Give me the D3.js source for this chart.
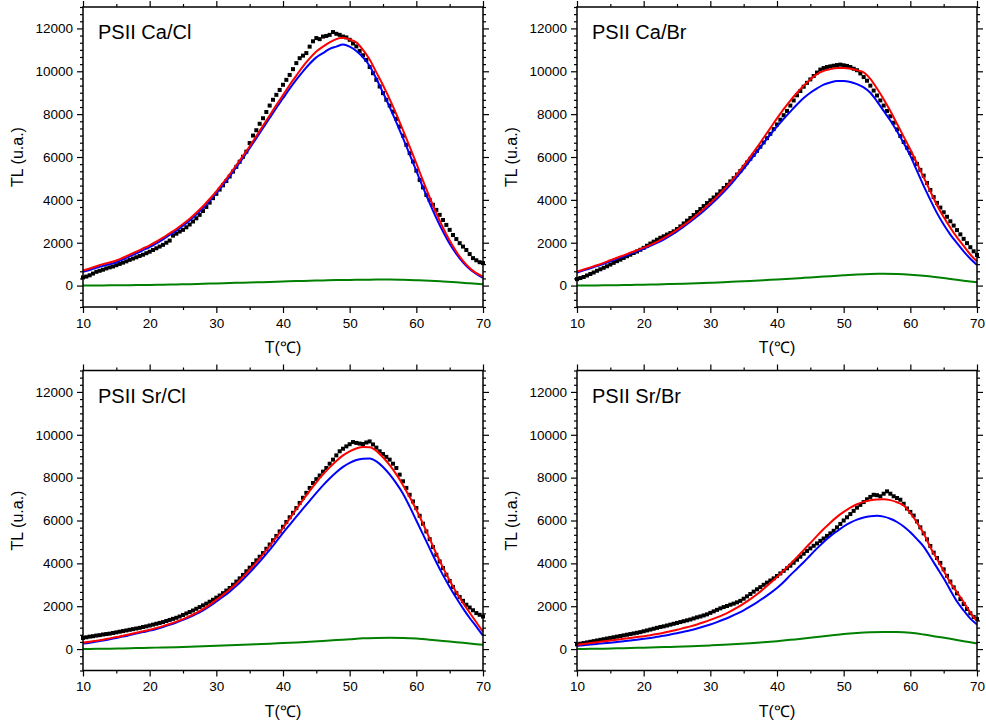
<!DOCTYPE html>
<html><head><meta charset="utf-8">
<script src="https://cdn.jsdelivr.net/npm/d3@7"></script>
<style>
body{margin:0;background:#fff;}
svg{display:block;}
text{font-family:"Liberation Sans",Arial,Helvetica,sans-serif;fill:#000;}
</style>
</head><body>
<svg id="chart" width="986" height="722"></svg>
<script>
// ---- temperature grids (°C) ----
const T1 = [10,11,12,13,14,15,16,17,18,19,20,21,22,23,24,25,26,27,28,29,30,31,32,33,34,35,36,37,38,39,40,41,42,43,44,45,46,47,48,49,50,51,52,53,54,55,56,57,58,59,60,61,62,63,64,65,66,67,68,69,70];
const T05 = [10,10.5,11,11.5,12,12.5,13,13.5,14,14.5,15,15.5,16,16.5,17,17.5,18,18.5,19,19.5,20,20.5,21,21.5,22,22.5,23,23.5,24,24.5,25,25.5,26,26.5,27,27.5,28,28.5,29,29.5,30,30.5,31,31.5,32,32.5,33,33.5,34,34.5,35,35.5,36,36.5,37,37.5,38,38.5,39,39.5,40,40.5,41,41.5,42,42.5,43,43.5,44,44.5,45,45.5,46,46.5,47,47.5,48,48.5,49,49.5,50,50.5,51,51.5,52,52.5,53,53.5,54,54.5,55,55.5,56,56.5,57,57.5,58,58.5,59,59.5,60,60.5,61,61.5,62,62.5,63,63.5,64,64.5,65,65.5,66,66.5,67,67.5,68,68.5,69,69.5,70];
const T2 = [10,12,14,16,18,20,22,24,26,28,30,32,34,36,38,40,42,44,46,48,50,52,54,56,58,60,62,64,66,68,70];

// ---- axis ticks ----
const xMajor = [10,20,30,40,50,60,70];
const xMinor = [15,25,35,45,55,65];
const yMajor = [0,2000,4000,6000,8000,10000,12000];
const titles = ["PSII Ca/Cl","PSII Ca/Br","PSII Sr/Cl","PSII Sr/Br"];

// ---- PSII Ca/Cl ----
const caClData = [380,420,480,560,640,690,740,800,850,890, 950,1010,1070,1130,1200,1260,1320,1380,1440,1510, 1580,1660,1740,1820,1900,2000,2100,2330,2420,2520, 2600,2720,2850,2990,3140,3300,3480,3670,3870,4080, 4280,4480,4680,4880,5090,5320,5540,5780,6010,6250, 6650,7000,7250,7550,7810,8100,8400,8670,8900,9130, 9370,9600,9830,10100,10380,10610,10730,10850,11150,11400, 11550,11500,11620,11650,11700,11830,11750,11700,11620,11580, 11470,11300,11160,10950,10750,10530,10200,9910,9600,9290, 8980,8670,8400,8120,7780,7420,7000,6570,6180,5790, 5360,4930,4580,4230,4000,3770,3530,3300,3060,2830, 2600,2360,2170,1980,1820,1660,1470,1280,1180,1090, 1050];
const caClFit = [700,800,900,1000,1080,1170,1300,1440,1580,1730, 1880,2050,2240,2440,2640,2870,3120,3400,3700,4040, 4400,4790,5190,5620,6050,6500,6980,7460,7940,8420, 8890,9360,9800,10230,10600,10920,11150,11350,11500,11560, 11480,11350,11000,10550,9950,9350,8700,8000,7250,6480, 5700,4900,4120,3380,2700,2100,1580,1150,820,580, 420];
const caClPeak1 = [640,730,830,920,1000,1090,1220,1360,1500,1650, 1800,1970,2160,2360,2560,2790,3040,3320,3620,3960, 4320,4700,5100,5530,5960,6410,6880,7350,7820,8290, 8740,9190,9610,10000,10350,10650,10850,11050,11150,11250, 11150,10950,10650,10250,9650,9000,8330,7620,6880,6120, 5350,4580,3850,3150,2520,1950,1480,1080,770,540, 360];
const caClPeak2 = [0,5,10,15,22,30,40,52,66,82, 100,118,135,152,170,190,208,225,242,256, 265,272,278,280,268,250,225,190,150,105, 60];

// ---- PSII Ca/Br ----
const caBrData = [300,350,400,470,540,610,690,760,830,900, 980,1060,1140,1210,1290,1370,1440,1520,1590,1670, 1760,1860,1960,2050,2140,2230,2300,2380,2450,2530, 2640,2760,2900,3030,3150,3290,3430,3570,3710,3850, 3980,4110,4250,4400,4550,4700,4860,5010,5180,5350, 5540,5740,5920,6100,6290,6480,6680,6880,7080,7300, 7520,7740,7950,8150,8400,8640,8880,9080,9280,9460, 9620,9780,9940,10080,10150,10200,10230,10260,10290,10310, 10280,10250,10200,10120,10050,9900,9730,9560,9330,9100, 8870,8640,8400,8150,7900,7600,7290,6980,6700,6440, 6190,5930,5680,5400,5130,4790,4460,4130,3860,3640, 3420,3210,3000,2800,2590,2390,2180,1980,1790,1600, 1430];
const caBrFit = [650,750,850,950,1060,1180,1300,1410,1530,1650, 1770,1900,2040,2210,2400,2600,2820,3050,3300,3570, 3850,4150,4470,4820,5200,5600,6020,6450,6900,7350, 7800,8230,8630,9000,9330,9620,9870,10020,10100,10150, 10150,10120,10050,9950,9650,9200,8700,8150,7550,6950, 6350,5700,5050,4400,3750,3200,2700,2250,1850,1450, 1120];
const caBrPeak1 = [610,710,810,910,1020,1130,1250,1360,1480,1600, 1720,1850,1990,2150,2330,2530,2750,2980,3220,3480, 3760,4050,4360,4700,5070,5450,5850,6250,6650,7050, 7420,7780,8120,8450,8750,9000,9200,9380,9480,9550, 9550,9500,9400,9250,9000,8600,8150,7700,7200,6650, 6050,5350,4650,4000,3380,2850,2380,1980,1600,1250, 960];
const caBrPeak2 = [0,5,10,20,30,40,55,70,90,110, 130,155,185,215,250,285,320,360,400,440, 480,520,545,550,540,510,460,390,310,230, 150];

// ---- PSII Sr/Cl ----
const srClData = [520,550,580,600,630,650,680,700,720,750, 780,810,840,870,900,930,960,990,1030,1060, 1100,1140,1180,1220,1260,1310,1360,1410,1460,1520, 1590,1660,1730,1800,1880,1960,2040,2120,2210,2300, 2400,2500,2610,2730,2850,3000,3150,3300,3460,3630, 3800,3970,4140,4310,4480,4680,4880,5080,5280,5490, 5710,5930,6150,6360,6580,6820,7060,7290,7520,7750, 7930,8100,8280,8450,8650,8840,9040,9230,9350,9460, 9560,9660,9620,9590,9570,9640,9690,9550,9400,9230, 9100,8970,8840,8650,8450,8140,7830,7520,7200,6890, 6580,6220,5850,5490,5130,4760,4400,4090,3780,3470, 3180,2900,2610,2430,2250,2070,1940,1810,1680,1600, 1520];
const srClFit = [300,340,390,440,500,560,620,690,760,830, 900,980,1070,1170,1280,1400,1540,1690,1860,2060, 2300,2530,2780,3060,3370,3700,4050,4420,4810,5220, 5650,6090,6530,6960,7380,7780,8150,8480,8780,9040, 9230,9360,9430,9420,9250,8950,8580,8150,7650,7100, 6500,5850,5150,4450,3800,3200,2650,2150,1700,1250, 800];
const srClPeak1 = [260,300,350,400,460,520,580,650,720,790, 860,940,1030,1130,1240,1360,1490,1640,1810,2000, 2220,2440,2680,2950,3250,3570,3910,4260,4630,5020, 5420,5800,6180,6550,6920,7290,7640,7960,8250,8500, 8690,8820,8880,8890,8760,8500,8150,7730,7250,6650, 6000,5350,4700,4050,3450,2900,2380,1900,1450,1050, 620];
const srClPeak2 = [0,10,20,30,45,60,75,90,110,130, 150,175,200,225,250,280,310,340,380,420, 460,500,520,530,520,490,440,380,320,260, 200];

// ---- PSII Sr/Br ----
const srBrData = [220,250,280,310,340,370,400,430,460,490, 520,550,580,610,640,670,700,730,760,790, 830,870,910,950,990,1030,1060,1100,1140,1180, 1220,1260,1300,1340,1380,1430,1480,1520,1570,1620, 1690,1760,1830,1900,1960,2010,2070,2120,2180,2250, 2350,2460,2570,2680,2790,2890,3000,3100,3200,3300, 3410,3530,3650,3770,3890,4030,4170,4310,4450,4580, 4700,4820,4930,5050,5160,5280,5400,5520,5680,5840, 6000,6150,6300,6450,6600,6730,6860,6990,7100,7200, 7180,7130,7250,7360,7250,7130,7050,6970,6780,6560, 6400,6230,5960,5680,5400,5120,4810,4500,4250,4020, 3720,3420,3150,2880,2600,2330,2100,1870,1670,1500, 1400];
const srBrFit = [200,240,280,320,360,400,440,480,520,560, 600,650,700,760,830,900,980,1060,1150,1250, 1360,1480,1610,1760,1930,2120,2330,2560,2810,3080, 3360,3660,3970,4290,4620,4950,5280,5600,5900,6170, 6400,6600,6760,6870,6940,6980,6990,6950,6850,6700, 6350,5900,5400,4750,4200,3650,3100,2650,2200,1700, 1300];
const srBrPeak1 = [150,180,210,240,270,300,330,360,400,440, 480,520,570,620,680,740,810,880,960,1050, 1150,1260,1380,1510,1650,1810,1990,2180,2390,2610, 2850,3130,3450,3750,4050,4380,4700,5000,5270,5500, 5720,5900,6040,6140,6200,6220,6180,6080,5930,5720, 5450,5130,4780,4300,3800,3300,2750,2220,1800,1420, 1150];
const srBrPeak2 = [0,10,20,35,50,65,80,100,120,145, 170,200,235,275,320,370,430,490,560,630, 700,750,785,800,795,760,680,580,480,370, 260];

const panels = [
  {title: titles[0], data: caClData, fit: caClFit, p1: caClPeak1, p2: caClPeak2, x0: 83,  y0: 7},
  {title: titles[1], data: caBrData, fit: caBrFit, p1: caBrPeak1, p2: caBrPeak2, x0: 577, y0: 7},
  {title: titles[2], data: srClData, fit: srClFit, p1: srClPeak1, p2: srClPeak2, x0: 83,  y0: 370.5},
  {title: titles[3], data: srBrData, fit: srBrFit, p1: srBrPeak1, p2: srBrPeak2, x0: 577, y0: 370.5}
];

const W = 400, H = 300;
const svg = d3.select("#chart");
const yMinor = d3.range(-1000, 13001, 2000/6).map(v => Math.round(v)).filter(v => yMajor.indexOf(v) < 0);

panels.forEach(p => {
  const g = svg.append("g").attr("transform", `translate(${p.x0},${p.y0})`);
  const x = d3.scaleLinear().domain([10, 70]).range([0, W]);
  const y = d3.scaleLinear().domain([-1000, 13000]).range([H, 0]);

  const style = sel => {
    sel.select(".domain").remove();
    sel.selectAll("line").attr("stroke", "#000").attr("stroke-width", 1.2);
    sel.selectAll("text").style("font-size", "13.5px").attr("fill", "#000");
  };

  // bottom axis
  g.append("g").attr("transform", `translate(0,${H})`)
    .call(d3.axisBottom(x).tickValues(xMajor).tickSize(6).tickPadding(5).tickFormat(d3.format("d"))).call(style);
  g.append("g").attr("transform", `translate(0,${H})`)
    .call(d3.axisBottom(x).tickValues(xMinor).tickSize(3).tickFormat("")).call(style);
  // top axis
  g.append("g").call(d3.axisTop(x).tickValues(xMajor).tickSize(6).tickFormat("")).call(style);
  g.append("g").call(d3.axisTop(x).tickValues(xMinor).tickSize(3).tickFormat("")).call(style);
  // left axis
  g.append("g").call(d3.axisLeft(y).tickValues(yMajor).tickSize(6).tickPadding(4).tickFormat(d3.format("d"))).call(style);
  g.append("g").call(d3.axisLeft(y).tickValues(yMinor).tickSize(3).tickFormat("")).call(style);
  // right axis
  g.append("g").attr("transform", `translate(${W},0)`)
    .call(d3.axisRight(y).tickValues(yMajor).tickSize(6).tickFormat("")).call(style);
  g.append("g").attr("transform", `translate(${W},0)`)
    .call(d3.axisRight(y).tickValues(yMinor).tickSize(3).tickFormat("")).call(style);

  // data squares
  g.append("g").selectAll("rect").data(p.data).join("rect")
    .attr("x", (d, i) => x(T05[i]) - 2)
    .attr("y", d => y(d) - 2)
    .attr("width", 4).attr("height", 4)
    .attr("fill", "#000");

  const line = (xs) => d3.line().x((d, i) => x(xs[i])).y(d => y(d)).curve(d3.curveMonotoneX);

  g.append("path").datum(p.p2).attr("d", line(T2)).attr("fill", "none")
    .attr("stroke", "#008000").attr("stroke-width", 2);
  g.append("path").datum(p.p1).attr("d", line(T1)).attr("fill", "none")
    .attr("stroke", "#0000ff").attr("stroke-width", 2);
  g.append("path").datum(p.fit).attr("d", line(T1)).attr("fill", "none")
    .attr("stroke", "#ff0000").attr("stroke-width", 2);

  // frame
  g.append("rect").attr("x", 0).attr("y", 0).attr("width", W).attr("height", H)
    .attr("fill", "none").attr("stroke", "#000").attr("stroke-width", 1.5);

  // panel title
  g.append("text").attr("x", 15).attr("y", 32).style("font-size", "20px").text(p.title);

  // axis titles
  g.append("text").attr("x", W / 2).attr("y", H + 46).attr("text-anchor", "middle")
    .style("font-size", "16px").text("T(\u2103)");
  g.append("text").attr("transform", `translate(-59.7,${H / 2}) rotate(-90)`)
    .attr("text-anchor", "middle").style("font-size", "16px").text("TL (u.a.)");
});
</script>
</body></html>
